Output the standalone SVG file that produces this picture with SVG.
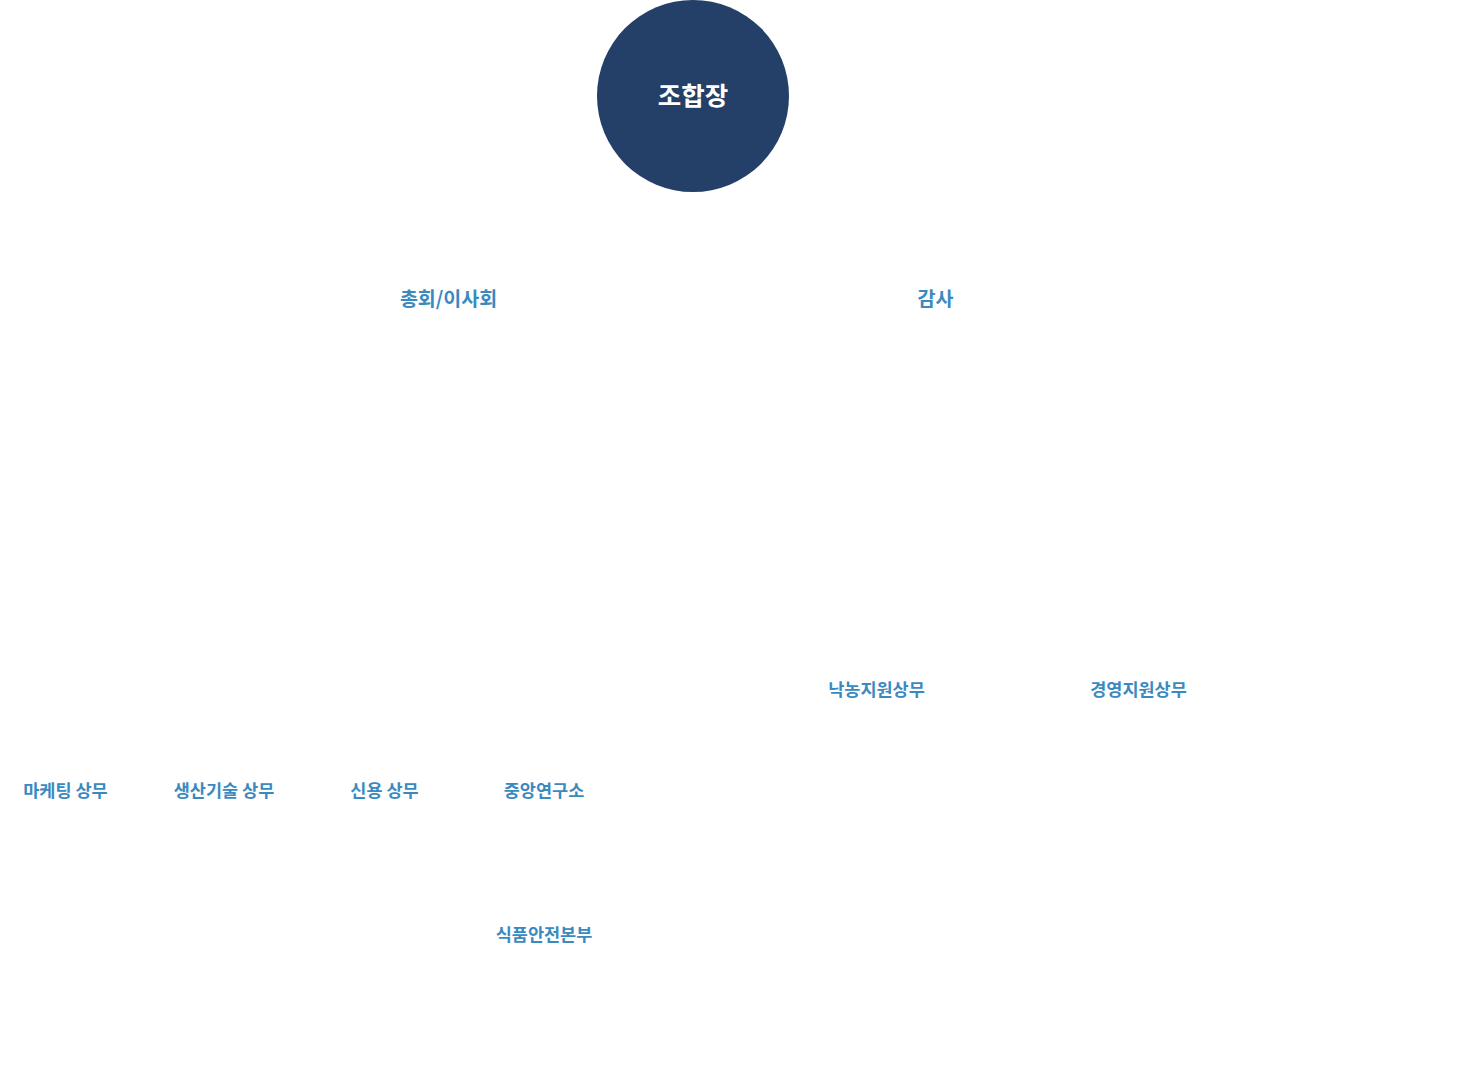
<svg xmlns="http://www.w3.org/2000/svg" width="1463" height="1084" viewBox="0 0 1463 1084">
<style>
.lbl{font-family:"Noto Sans CJK KR","Noto Sans",sans-serif;font-weight:bold;font-size:19.5px;fill:#3a8ac0;text-anchor:middle}
.sm{font-size:17.5px}
.head{font-family:"Noto Sans CJK KR","Noto Sans",sans-serif;font-weight:bold;font-size:25.5px;fill:#ffffff;text-anchor:middle}
</style>
<rect width="1463" height="1084" fill="#ffffff"/>
<g id="connectors"></g>
<g id="n-chief"><circle cx="693" cy="96" r="96" fill="#243f68"/><text class="head" x="693" y="105">조합장</text></g>
<g id="n-board"><text class="lbl" x="448.5" y="306">총회/이사회</text></g>
<g id="n-audit"><text class="lbl" x="935.5" y="306">감사</text></g>
<g id="n-dairy"><text class="lbl sm" x="876.5" y="695.5">낙농지원상무</text></g>
<g id="n-mgmt"><text class="lbl sm" x="1138.5" y="695.5">경영지원상무</text></g>
<g id="n-mkt"><text class="lbl sm" x="65.5" y="796.5">마케팅 상무</text></g>
<g id="n-prod"><text class="lbl sm" x="224" y="796.5">생산기술 상무</text></g>
<g id="n-credit"><text class="lbl sm" x="384.5" y="796.5">신용 상무</text></g>
<g id="n-lab"><text class="lbl sm" x="544" y="796.5">중앙연구소</text></g>
<g id="n-food"><text class="lbl sm" x="544" y="940.5">식품안전본부</text></g>
</svg>
